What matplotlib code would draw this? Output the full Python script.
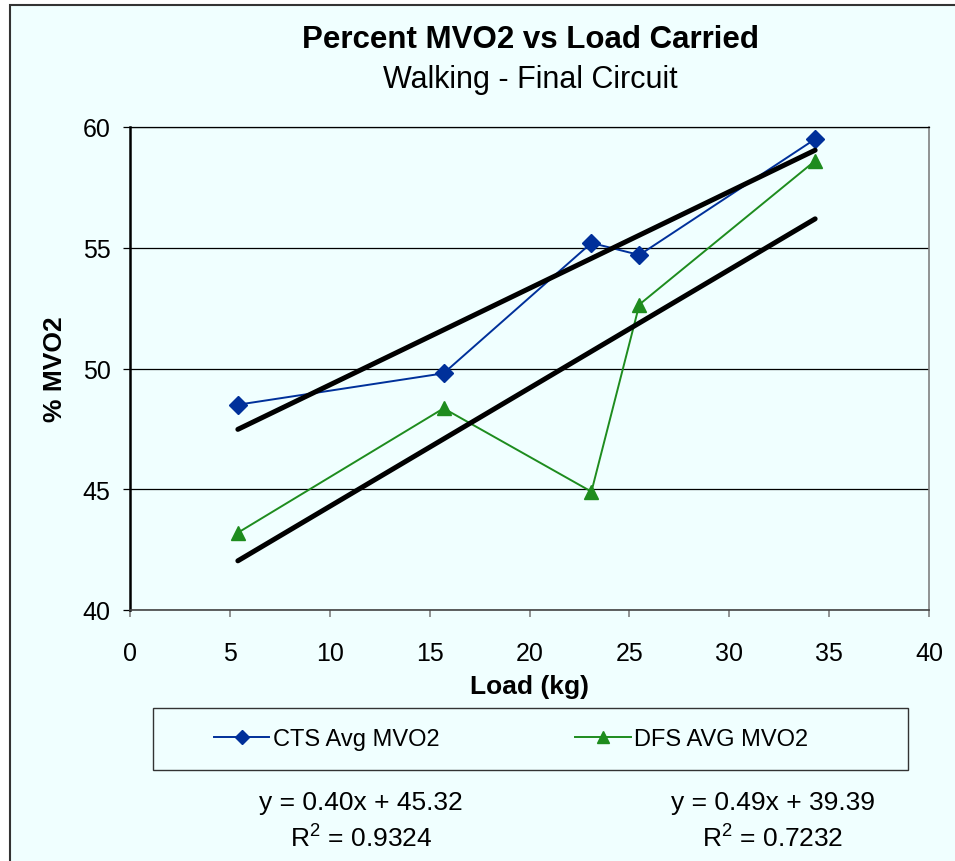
import numpy as np
import matplotlib
matplotlib.use("Agg")
import matplotlib.pyplot as plt
from matplotlib.patches import Rectangle
from matplotlib.lines import Line2D

plt.rcParams['font.family'] = ['Liberation Sans', 'DejaVu Sans']
plt.rcParams['mathtext.fontset'] = 'custom'
plt.rcParams['mathtext.rm'] = 'Liberation Sans'

# load carried (kg) and average %MVO2 for each circuit
load = [5.4, 15.7, 23.1, 25.5, 34.3]
cts_mvo2 = [48.5, 49.8, 55.2, 54.7, 59.5]
dfs_mvo2 = [43.2, 48.35, 44.9, 52.65, 58.6]

# linear trend lines (slope, intercept, r squared)
cts_fit = (0.40, 45.32, 0.9324)
dfs_fit = (0.49, 39.39, 0.7232)

bg = '#F0FFFF'
blue = '#00309A'
green = '#1E8C1E'

fig = plt.figure(figsize=(9.55, 8.62), dpi=100, facecolor='white')
fig.patches.append(Rectangle((10 / 955, -0.1), 1.2, 1.1 - 6 / 862,
                             transform=fig.transFigure, facecolor=bg,
                             edgecolor='#333333', linewidth=1.5, zorder=-5))

ax = fig.add_axes([130 / 955, 1 - 611 / 862, (929 - 130) / 955, (611 - 128) / 862])
ax.set_facecolor(bg)

ax.plot(load, cts_mvo2, color=blue, lw=1.4, marker='D', ms=9, label='CTS Avg MVO2', zorder=3)
ax.plot(load, dfs_mvo2, color=green, lw=1.4, marker='^', ms=10.5, label='DFS AVG MVO2', zorder=3)

xs = np.array([min(load), max(load)])
for slope, icpt, _ in (cts_fit, dfs_fit):
    ax.plot(xs, slope * xs + icpt, color='black', lw=3.6, solid_capstyle='round', zorder=4)

ax.set_xlim(0, 40)
ax.set_ylim(40, 60)
ax.set_xticks(range(0, 41, 5))
ax.set_yticks(range(40, 61, 5))
ax.yaxis.grid(True, color='black', lw=0.9)
ax.set_axisbelow(True)

ax.spines['left'].set_linewidth(1.8)
ax.spines['left'].set_color('black')
ax.spines['bottom'].set_color('#444444')
ax.spines['bottom'].set_linewidth(1.2)
ax.spines['right'].set_color('#808080')
ax.spines['right'].set_linewidth(1.2)
ax.spines['top'].set_linewidth(0.9)
ax.tick_params(axis='y', direction='out', length=5, width=0.9, color='black', pad=9, labelsize=18)
ax.tick_params(axis='x', direction='out', length=5, width=1.2, color='#808080', pad=17, labelsize=18)

ax.set_xlabel('Load (kg)', fontsize=19, fontweight='bold', labelpad=7)
ax.set_ylabel('% MVO2', fontsize=19, fontweight='bold', labelpad=11)

fig.text(530 / 955, 1 - 40 / 862, 'Percent MVO2 vs Load Carried', ha='center', va='center',
         fontsize=22.5, fontweight='bold')
fig.text(530 / 955, 1 - 80 / 862, 'Walking - Final Circuit', ha='center', va='center', fontsize=22)

# legend box across the bottom
fig.patches.append(Rectangle((153 / 955, 1 - 771 / 862), (908 - 153) / 955, 62 / 862,
                             transform=fig.transFigure, facecolor='none',
                             edgecolor='#333333', linewidth=1.0, zorder=1))
handles, labels = ax.get_legend_handles_labels()
handles = [Line2D([], [], color=h.get_color(), lw=1.4, marker=h.get_marker(),
                  ms=h.get_markersize() * 0.8) for h in handles]
fig.legend(handles, labels, loc='center left', bbox_to_anchor=(202 / 955, 1 - 740 / 862),
           ncol=2, frameon=False, fontsize=17, handlelength=2.35, handletextpad=0.15,
           columnspacing=5.75, borderpad=0)

for (slope, icpt, r2), cx in ((cts_fit, 361), (dfs_fit, 773)):
    fig.text(cx / 955, 1 - 803 / 862, f'y = {slope:.2f}x + {icpt:.2f}', ha='center',
             va='center', fontsize=19)
    fig.text(cx / 955, 1 - 838 / 862, f'R$^2$ = {r2:.4f}', ha='center', va='center', fontsize=19)

fig.savefig('out.png', dpi=100, facecolor=fig.get_facecolor())
